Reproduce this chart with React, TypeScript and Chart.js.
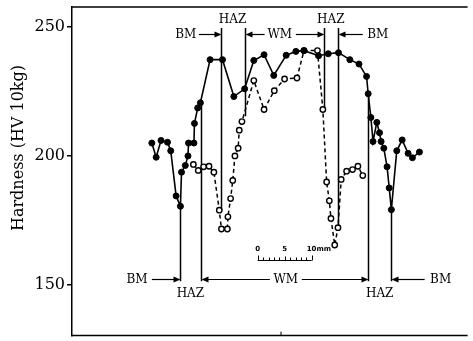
import React, { useEffect, useRef } from "react";
import { Chart, registerables } from "chart.js";

Chart.register(...registerables);

// Distance along the specimen (mm, from left edge of plot) and hardness (HV 10kg)
const filledX = [14.8, 15.6, 16.5, 17.7, 18.3, 19.3, 20.1, 20.3, 21.0, 21.5, 21.6, 22.6, 22.7, 23.3, 23.8, 25.6, 27.9, 30.0, 32.0, 33.7, 35.6, 37.4, 39.7, 41.5, 43.0, 45.7, 47.5, 49.4, 51.5, 53.2, 54.6, 54.9, 55.4, 55.8, 56.5, 57.0, 57.3, 57.8, 58.4, 58.8, 59.2, 60.2, 61.2, 62.3, 63.1, 64.4];
const filledY = [205, 199.5, 206, 205.3, 202, 184.5, 180.5, 193.7, 196.3, 200, 205, 205, 212.6, 218.6, 220.6, 237.3, 237.3, 223, 226, 237, 239.2, 231.2, 239, 240.5, 240.8, 238.8, 239.6, 240, 237.3, 235.6, 230.8, 224.1, 214.9, 205.6, 213, 209, 205.6, 203, 195.8, 187.6, 179.2, 202, 206.2, 201, 199.3, 201.5];

const openX = [22.5, 23.4, 24.4, 25.4, 26.3, 27.3, 27.7, 28.8, 28.9, 29.4, 29.8, 30.2, 30.8, 31.0, 31.5, 33.7, 35.6, 37.5, 39.4, 41.7, 43.0, 45.5, 46.5, 47.2, 47.7, 48.0, 48.7, 49.3, 49.9, 50.9, 52.0, 53.0, 53.9];
const openY = [196.7, 194.4, 195.8, 196, 193.7, 179, 171.7, 171.7, 176.4, 183.5, 190.5, 200, 203, 210, 213.3, 229.2, 218, 225.3, 229.8, 230.2, 240.8, 240.8, 218, 189.9, 182.6, 175.8, 165.5, 172.2, 190.9, 194.1, 194.7, 196, 192.4];

const yTicks = [150, 200, 250];
const yMin = 130.4;
const yMax = 257.7;
const xMin = 0;
const xMax = 73.33;
const yTitle = "Hardness (HV 10kg)";

// Zone boundaries (mm) and their extent in hardness units
const upperLineX = [27.54, 32.04, 46.67, 49.31];
const upperLineEnd = [179, 215.4, 218, 172.2];
const upperLineStart = 249.6;
const lowerLineX = [20.0, 23.83, 54.87, 59.2];
const lowerLineStart = [180.5, 220.6, 224.1, 179.2];
const lowerLineEnd = 151.5;

// Arrows: from -> to (mm) at a hardness level
const upperArrowFrom = [23.5, 35.7, 41.5, 53.9];
const upperArrowTo = [27.54, 32.04, 46.67, 49.31];
const upperArrowY = 247.4;
const lowerArrowFrom = [14.8, 36.67, 42.6, 65.37];
const lowerArrowTo = [20.0, 23.83, 54.87, 59.2];
const lowerArrowY = 152.3;

const upperLabels = ["BM", "HAZ", "WM", "HAZ", "BM"];
const upperLabelX = [21.1, 29.76, 38.5, 47.96, 56.67];
const upperLabelY = [247.4, 253.2, 247.4, 253.2, 247.4];
const lowerLabels = ["BM", "HAZ", "WM", "HAZ", "BM"];
const lowerLabelX = [12.04, 21.94, 39.63, 57.04, 68.33];
const lowerLabelY = [152.3, 146.9, 152.3, 146.9, 152.3];

// Scale bar (mm)
const scaleBarStart = 34.44;
const scaleBarLength = 10;
const scaleBarY = 159.6;
const scaleBarLabels = ["0", "5", "10mm"];
const scaleBarLabelPos = [0, 5, 10];

const SERIF = "'DejaVu Serif', 'Liberation Serif', serif";

const overlayPlugin = {
  id: "overlay",
  beforeDatasetsDraw(chart: any) {
    const { ctx, chartArea } = chart;
    const xs = chart.scales.x;
    const ys = chart.scales.y;
    const px = (v: number) => xs.getPixelForValue(v);
    const py = (v: number) => ys.getPixelForValue(v);
    ctx.save();
    ctx.strokeStyle = "#000";
    ctx.fillStyle = "#000";

    // top & bottom frame lines
    ctx.lineWidth = 1.5;
    ctx.beginPath();
    ctx.moveTo(chartArea.left, chartArea.top);
    ctx.lineTo(chartArea.right, chartArea.top);
    ctx.moveTo(chartArea.left, chartArea.bottom);
    ctx.lineTo(chartArea.right, chartArea.bottom);
    ctx.stroke();
    // small bottom tick
    ctx.lineWidth = 1;
    ctx.beginPath();
    ctx.moveTo(281, chartArea.bottom);
    ctx.lineTo(281, chartArea.bottom - 4);
    ctx.stroke();

    // zone boundary lines
    ctx.lineWidth = 1.5;
    ctx.beginPath();
    upperLineX.forEach((x, i) => {
      const X = Math.round(px(x)) + 0.5;
      ctx.moveTo(X, py(upperLineStart));
      ctx.lineTo(X, py(upperLineEnd[i]));
    });
    lowerLineX.forEach((x, i) => {
      const X = Math.round(px(x)) + 0.5;
      ctx.moveTo(X, py(lowerLineStart[i]));
      ctx.lineTo(X, py(lowerLineEnd));
    });
    ctx.stroke();

    // arrows
    const arrow = (from: number, to: number, yv: number) => {
      const x1 = px(from);
      const x2 = Math.round(px(to)) + 0.5;
      const y = Math.round(py(yv)) + 0.5;
      const dir = x2 > x1 ? 1 : -1;
      ctx.lineWidth = 1.2;
      ctx.beginPath();
      ctx.moveTo(x1, y);
      ctx.lineTo(x2 - dir * 5, y);
      ctx.stroke();
      ctx.beginPath();
      ctx.moveTo(x2, y);
      ctx.lineTo(x2 - dir * 7, y - 3);
      ctx.lineTo(x2 - dir * 7, y + 3);
      ctx.closePath();
      ctx.fill();
    };
    upperArrowFrom.forEach((f, i) => arrow(f, upperArrowTo[i], upperArrowY));
    lowerArrowFrom.forEach((f, i) => arrow(f, lowerArrowTo[i], lowerArrowY));

    // labels
    ctx.font = `12px ${SERIF}`;
    ctx.textAlign = "center";
    ctx.textBaseline = "middle";
    upperLabels.forEach((t, i) => {
      const tx = px(upperLabelX[i]);
      const ty = py(upperLabelY[i]);
      const w = ctx.measureText(t).width;
      ctx.fillStyle = "#fff";
      ctx.fillRect(tx - w / 2 - 2, ty - 6, w + 4, 12);
      ctx.fillStyle = "#000";
      ctx.fillText(t, tx, ty + 1);
    });
    lowerLabels.forEach((t, i) => {
      const tx = px(lowerLabelX[i]);
      const ty = py(lowerLabelY[i]);
      const w = ctx.measureText(t).width;
      ctx.fillStyle = "#fff";
      ctx.fillRect(tx - w / 2 - 2, ty - 6, w + 4, 12);
      ctx.fillStyle = "#000";
      ctx.fillText(t, tx, ty + 1);
    });

    // scale bar
    const sx0 = px(scaleBarStart);
    const sx1 = px(scaleBarStart + scaleBarLength);
    const sy = Math.round(py(scaleBarY)) + 0.5;
    ctx.lineWidth = 1;
    ctx.beginPath();
    ctx.moveTo(sx0, sy);
    ctx.lineTo(sx1, sy);
    for (let m = 0; m <= scaleBarLength; m++) {
      const tx = Math.round(px(scaleBarStart + m)) + 0.5;
      const h = m === 0 || m === scaleBarLength ? 5 : m === 5 ? 4 : 3;
      ctx.moveTo(tx, sy);
      ctx.lineTo(tx, sy - h);
    }
    ctx.stroke();
    ctx.font = `bold 7px 'DejaVu Sans', sans-serif`;
    ctx.textBaseline = "alphabetic";
    scaleBarLabels.forEach((t, i) => {
      const tx = px(scaleBarStart + scaleBarLabelPos[i]);
      if (i === scaleBarLabels.length - 1) {
        ctx.textAlign = "left";
        ctx.fillText(t, tx - 5, sy - 10);
      } else {
        ctx.textAlign = "center";
        ctx.fillText(t, tx, sy - 10);
      }
    });

    // y title
    ctx.font = `16px ${SERIF}`;
    ctx.textAlign = "center";
    ctx.textBaseline = "middle";
    ctx.translate(19, 148);
    ctx.rotate(-Math.PI / 2);
    ctx.fillText(yTitle, 0, 0);
    ctx.restore();
  },
};

export default function App() {
  const ref = useRef<HTMLCanvasElement | null>(null);
  useEffect(() => {
    if (!ref.current) return;
    const chart = new Chart(ref.current, {
      type: "scatter",
      data: {
        datasets: [
          {
            label: "filled",
            data: filledX.map((x, i) => ({ x, y: filledY[i] })),
            showLine: true,
            borderColor: "#000",
            borderWidth: 1.6,
            pointRadius: 3,
            pointBackgroundColor: "#000",
            pointBorderColor: "#000",
            pointBorderWidth: 1,
            tension: 0,
          },
          {
            label: "open",
            data: openX.map((x, i) => ({ x, y: openY[i] })),
            showLine: true,
            borderColor: "#000",
            borderWidth: 1.5,
            borderDash: [4, 3],
            pointRadius: 2.7,
            pointBackgroundColor: "#fff",
            pointBorderColor: "#000",
            pointBorderWidth: 1.4,
            tension: 0,
          },
        ],
      },
      options: {
        animation: false,
        responsive: false,
        maintainAspectRatio: false,
        layout: { padding: { left: 0, top: 7, right: 5, bottom: 3 } },
        plugins: { legend: { display: false }, tooltip: { enabled: false } },
        scales: {
          x: { type: "linear", min: xMin, max: xMax, display: false },
          y: {
            type: "linear",
            min: yMin,
            max: yMax,
            afterBuildTicks: (s: any) => {
              s.ticks = yTicks.map((v) => ({ value: v }));
            },
            afterFit: (s: any) => {
              s.width = 72;
              s.paddingTop = 0;
              s.paddingBottom = 0;
            },
            grid: {
              drawOnChartArea: false,
              drawTicks: true,
              tickLength: 5,
              color: "#000",
              lineWidth: 1.5,
            },
            border: { display: true, color: "#000", width: 1.5 },
            ticks: {
              color: "#000",
              font: { family: SERIF, size: 16 },
              padding: 2,
            },
          },
        },
      } as any,
      plugins: [overlayPlugin],
    });
    return () => chart.destroy();
  }, []);
  return (
    <div style={{ position: "fixed", left: 0, top: 0, width: 473, height: 341, background: "#fff" }}>
      <canvas ref={ref} width={473} height={341} style={{ width: 473, height: 341 }} />
    </div>
  );
}
